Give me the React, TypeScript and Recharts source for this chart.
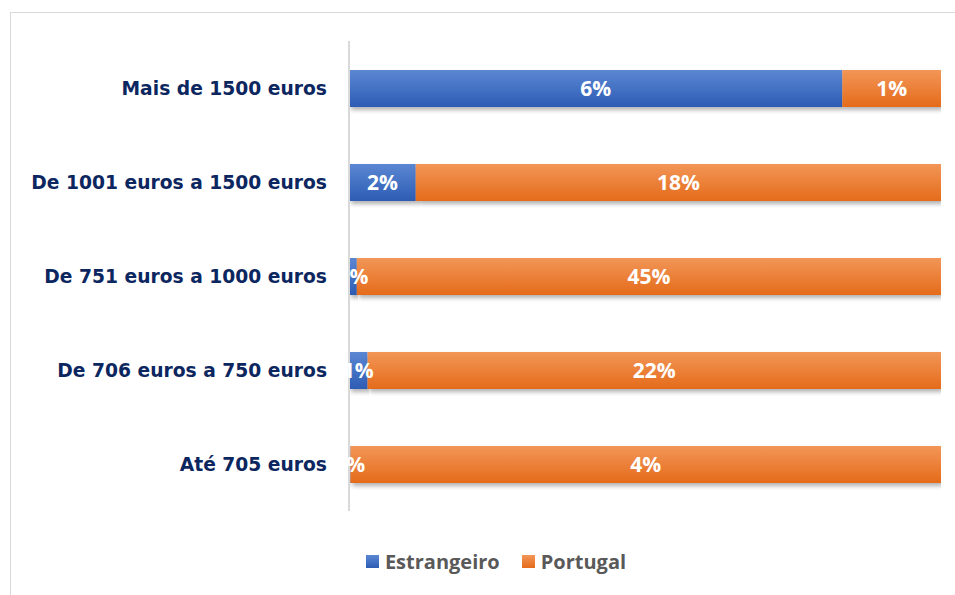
import { BarChart, Bar, XAxis, YAxis, Legend, LabelList } from "recharts";

const categories = [
  "Mais de 1500 euros",
  "De 1001 euros a 1500 euros",
  "De 751 euros a 1000 euros",
  "De 706 euros a 750 euros",
  "Até 705 euros",
];
const estrangeiro = [5.8, 2.3, 0.6, 0.7, 0.01];
const portugal = [1.16, 18.1, 44.8, 21.6, 4.1];

const series = [
  { key: "estrangeiro", name: "Estrangeiro", top: "#5b87d3", bottom: "#2d5cb4" },
  { key: "portugal", name: "Portugal", top: "#f29657", bottom: "#e56b1b" },
];

const data = categories.map((name, i) => ({
  name,
  estrangeiro: estrangeiro[i],
  portugal: portugal[i],
}));

const pct = (v: any) => `${Math.round(Number(v))}%`;

function LegendBox() {
  return (
    <div style={{ display: "flex", justifyContent: "center", paddingLeft: 32, gap: 22 }}>
      {series.map((s) => (
        <div key={s.key} style={{ display: "flex", alignItems: "center" }}>
          <span
            style={{
              width: 13,
              height: 13,
              marginRight: 6,
              background: `linear-gradient(${s.top}, ${s.bottom})`,
            }}
          />
          <span style={{ fontFamily: "'Open Sans', sans-serif", fontWeight: 700, fontSize: 20, color: "#595959" }}>
            {s.name}
          </span>
        </div>
      ))}
    </div>
  );
}

export default function App() {
  return (
    <div
      style={{
        position: "absolute",
        left: 10,
        top: 12,
        width: 960,
        height: 600,
        border: "1px solid #d9d9d9",
        background: "#fff",
      }}
    >
      <BarChart
        width={945}
        height={580}
        data={data}
        layout="vertical"
        stackOffset="expand"
        barSize={37}
        margin={{ top: 28, right: 15, bottom: 55, left: 8 }}
      >
        <defs>
          {series.map((s) => (
            <linearGradient key={s.key} id={`grad-${s.key}`} x1="0" y1="0" x2="0" y2="1">
              <stop offset="0%" stopColor={s.top} />
              <stop offset="100%" stopColor={s.bottom} />
            </linearGradient>
          ))}
          <filter id="shadow" x="-5%" y="-20%" width="110%" height="160%">
            <feDropShadow dx="2" dy="3" stdDeviation="2" floodColor="#000" floodOpacity="0.3" />
          </filter>
        </defs>
        <XAxis type="number" hide domain={[0, 1]} allowDataOverflow />
        <YAxis
          type="category"
          dataKey="name"
          width={330}
          tickLine={false}
          tickMargin={16}
          axisLine={{ stroke: "#d9d9d9", strokeWidth: 2 }}
          tick={{ fill: "#0c2660", fontSize: 18.7, fontWeight: 700, fontFamily: "'DejaVu Sans', sans-serif" }}
        />
        <Legend verticalAlign="bottom" content={<LegendBox />} wrapperStyle={{ top: 535 }} />
        {series.map((s) => (
          <Bar
            key={s.key}
            dataKey={s.key}
            name={s.name}
            stackId="a"
            fill={`url(#grad-${s.key})`}
            filter="url(#shadow)"
            isAnimationActive={false}
          >
            <LabelList
              dataKey={s.key}
              position="center"
              formatter={pct}
              fill="#fff"
              style={{ fontSize: 21, fontWeight: 700, fontFamily: "'Open Sans', sans-serif" }}
            />
          </Bar>
        ))}
      </BarChart>
    </div>
  );
}
